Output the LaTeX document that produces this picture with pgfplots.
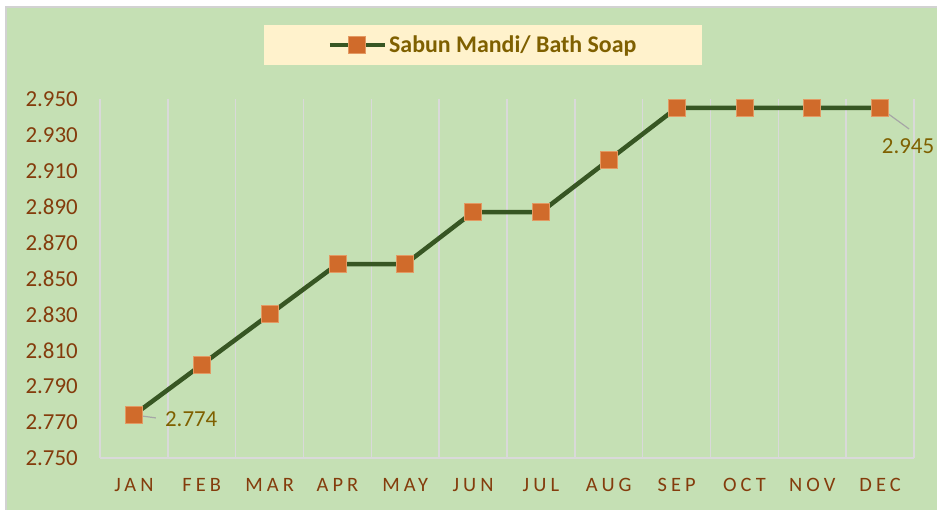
\documentclass[border=0pt]{standalone}
\usepackage{fontspec}
\setmainfont{Carlito}
\newfontfamily\xlabfont[LetterSpace=20]{Carlito}
\usepackage{pgfplots}
\pgfplotsset{compat=1.18}

\definecolor{bgreen}{HTML}{C5E0B4}
\definecolor{lgreen}{HTML}{375623}
\definecolor{morange}{HTML}{D06B2B}
\definecolor{medge}{HTML}{E39A63}
\definecolor{tickbrown}{HTML}{843C0C}
\definecolor{olivetext}{HTML}{7F6000}
\definecolor{gridgray}{HTML}{D9D9D9}
\definecolor{legfill}{HTML}{FFF2CC}

\begin{document}
\begin{tikzpicture}
\useasboundingbox (0,0) rectangle (937bp,510bp);
\fill[white] (0,0) rectangle (937bp,510bp);
\fill[bgreen] (6bp,0) rectangle (937bp,503bp);
\draw[gray!35, line width=1.5bp] (6bp,0) -- (6bp,503bp) -- (937bp,503bp);

\begin{axis}[
    at={(100bp,52bp)}, anchor=south west,
    scale only axis,
    width=814bp, height=359bp,
    xmin=-0.5, xmax=11.5,
    ymin=2.75, ymax=2.95,
    xtick={0,...,11},
    xticklabels={JAN,FEB,MAR,APR,MAY,JUN,JUL,AUG,SEP,OCT,NOV,DEC},
    minor xtick={-0.5,0.5,...,11.5},
    xminorgrids,
    minor grid style={gridgray, line width=1.5bp},
    ytick={2.75,2.77,...,2.951},
    major tick length=0pt, minor tick length=0pt,
    axis x line*=bottom, axis y line*=left,
    x axis line style={gridgray, line width=1.5bp},
    y axis line style={draw=none},
    /pgf/number format/assume math mode=true,
    yticklabel style={
        /pgf/number format/.cd, fixed, fixed zerofill, precision=3,
        /tikz/.cd, font=\fontsize{23}{28}\selectfont, text=tickbrown,
        inner sep=0pt, anchor=east, xshift=-22bp},
    xticklabel style={font=\xlabfont\fontsize{20.5}{24}\selectfont,
        text=tickbrown, inner sep=0pt, anchor=north, yshift=-20bp},
    legend style={at={(0.4705,1.1504)}, anchor=center,
        fill=legfill, draw=none, inner xsep=64bp, inner ysep=9bp,
        font=\bfseries\fontsize{24}{28}\selectfont, text=olivetext},
    legend image code/.code={
        \draw[mark repeat=2, mark phase=2, #1]
            plot coordinates {(0bp,0bp) (27.5bp,0bp) (55bp,0bp)};},
    clip=false,
]
\addplot[lgreen, line width=4.5bp, mark=square*, mark size=8.5bp,
    mark options={fill=morange, draw=medge, line width=0.8bp}]
    coordinates {
    (0,2.774) (1,2.802) (2,2.830) (3,2.858) (4,2.858) (5,2.887)
    (6,2.887) (7,2.916) (8,2.945) (9,2.945) (10,2.945) (11,2.945)
    };
\addlegendentry{Sabun Mandi/ Bath Soap}

\draw[gray!70, line width=1.2bp] (axis cs:0,2.774) -- ++(22bp,-3bp);
\node[anchor=west, inner sep=0pt, text=olivetext,
    font=\fontsize{23}{28}\selectfont, xshift=31bp, yshift=-4bp]
    at (axis cs:0,2.774) {2.774};
\draw[gray!70, line width=1.2bp] (axis cs:11,2.945) -- ++(29bp,-21bp);
\node[anchor=center, inner sep=0pt, text=olivetext,
    font=\fontsize{23}{28}\selectfont, xshift=28bp, yshift=-38bp]
    at (axis cs:11,2.945) {2.945};
\end{axis}
\end{tikzpicture}
\end{document}
